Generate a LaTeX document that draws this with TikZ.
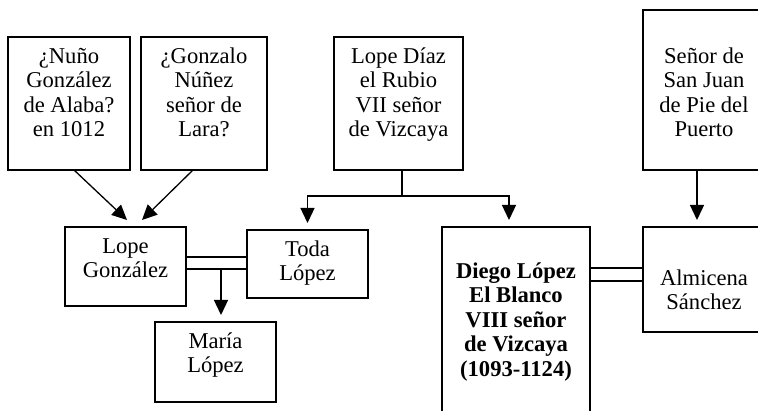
\documentclass[tikz,border=0pt]{standalone}
\usepackage{fontspec}
\setmainfont{Liberation Serif}
\usetikzlibrary{positioning,calc,arrows.meta}

\newcommand{\famtext}[4]{\parbox[c][#2][t]{#1}{\centering\vspace*{#3}\strut #4}}

\begin{document}
\begin{tikzpicture}[x=1pt, y=-1pt,
    person/.style={draw, rectangle, line width=1.3pt, inner sep=0pt, outer sep=0pt,
        font=\fontsize{22.6}{24.5}\selectfont},
    arr/.style={line width=1.3pt, -{Triangle[width=14pt,length=15pt]}},
    wed/.style={line width=1.3pt}]
    \clip (0,0) rectangle (758,411);
    % top row
    \node [person] (nuno) at (69,103.5) {\famtext{122pt}{133pt}{9pt}{¿Nuño\\González\\de Alaba?\\en 1012}};
    \node [person] (gonzalo) at (204,103.5) {\famtext{126pt}{133pt}{9pt}{¿Gonzalo\\Núñez\\señor de\\Lara?}};
    \node [person] (lopediaz) at (398.5,103.5) {\famtext{129pt}{133pt}{9pt}{Lope Díaz\\el Rubio\\VII señor\\de Vizcaya}};
    \node [person] (sanjuan) at (704,90) {\famtext{122pt}{160pt}{36pt}{Señor de\\San Juan\\de Pie del\\Puerto}};
    % lower rows
    \node [person] (lopeg) at (125.5,266.5) {\famtext{121pt}{79pt}{9pt}{Lope\\González}};
    \node [person] (toda) at (307.5,264) {\famtext{121pt}{68pt}{9pt}{Toda\\López}};
    \node [person] (maria) at (215.5,362) {\famtext{121pt}{80pt}{9pt}{María\\López}};
    \node [person] (diego) at (516,325) {\famtext{148pt}{196pt}{34pt}{\bfseries Diego López\\El Blanco\\VIII señor\\de Vizcaya\\(1093-1124)}};
    \node [person] (almicena) at (704,279.5) {\famtext{122pt}{105pt}{41pt}{Almicena\\Sánchez}};

    % parents of Lope González
    \draw [arr] ([xshift=5pt]nuno.south) -- ([xshift=1.5pt,yshift=7pt]lopeg.north);
    \draw [arr] ([xshift=-11pt]gonzalo.south) -- ([xshift=16.5pt,yshift=7pt]lopeg.north);
    % children of Lope Díaz
    \draw [wed] ([xshift=3.5pt]lopediaz.south) -- ++(0,26) coordinate (jct);
    \draw [arr] (jct) -| ([yshift=7pt]toda.north);
    \draw [arr] (jct) -| ([xshift=-7pt,yshift=7pt]diego.north);
    \draw [arr] ([xshift=-7pt]sanjuan.south) -- ([xshift=-7pt,yshift=7pt]almicena.north);
    % marriages
    \draw [wed] ([yshift=9.5pt]lopeg.east) -- ([yshift=9.5pt]lopeg.east -| toda.west);
    \draw [wed] ([yshift=-2.5pt]lopeg.east) -- ([yshift=-2.5pt]lopeg.east -| toda.west);
    \coordinate (mar) at (221,269);
    \draw [arr] (mar) -- ([yshift=7pt]mar |- maria.north);
    \draw [wed] ([yshift=11.5pt]almicena.west) -- ([yshift=11.5pt]almicena.west -| diego.east);
    \draw [wed] ([yshift=-1.5pt]almicena.west) -- ([yshift=-1.5pt]almicena.west -| diego.east);
\end{tikzpicture}
\end{document}
